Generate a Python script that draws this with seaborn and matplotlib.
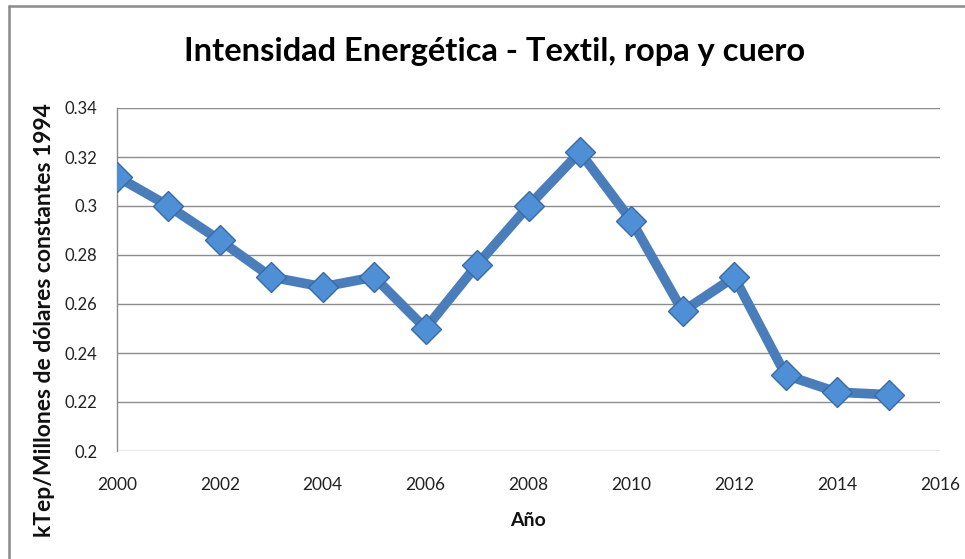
import matplotlib
matplotlib.use("Agg")
import matplotlib.pyplot as plt
import seaborn as sns
import pandas as pd
from matplotlib.lines import Line2D

years = [2000, 2001, 2002, 2003, 2004, 2005, 2006, 2007,
         2008, 2009, 2010, 2011, 2012, 2013, 2014, 2015]
intensity = [0.312, 0.300, 0.286, 0.271, 0.267, 0.271, 0.250, 0.276,
             0.300, 0.322, 0.294, 0.257, 0.271, 0.231, 0.224, 0.223]
x_ticks = [2000, 2002, 2004, 2006, 2008, 2010, 2012, 2014, 2016]
y_ticks = [0.2, 0.22, 0.24, 0.26, 0.28, 0.3, 0.32, 0.34]
y_tick_labels = ["0.2", "0.22", "0.24", "0.26", "0.28", "0.3", "0.32", "0.34"]

title = "Intensidad Energética - Textil, ropa y cuero"
xlabel = "Año"
ylabel = "kTep/Millones de dólares constantes 1994"

df = pd.DataFrame({"Año": years, "Intensidad": intensity})

sns.set_theme(style="white")
plt.rcParams["font.family"] = ["Lato", "DejaVu Sans"]

fig = plt.figure(figsize=(9.65, 5.59), dpi=100)
ax = fig.add_axes([117 / 965, 1 - 451 / 559, (940 - 117) / 965, (451 - 108) / 559])

sns.lineplot(data=df, x="Año", y="Intensidad", ax=ax, color="#4a7ebb",
             linewidth=7, marker="D", markersize=15,
             markerfacecolor="#4f8fd6", markeredgecolor="#3a6aa5",
             markeredgewidth=1.0, zorder=3)

ax.set_xlim(2000, 2016)
ax.set_ylim(0.2, 0.34)
ax.set_xticks(x_ticks)
ax.set_xticklabels([str(t) for t in x_ticks])
ax.set_yticks(y_ticks)
ax.set_yticklabels(y_tick_labels)
ax.yaxis.grid(True, color="#8c8c8c", linewidth=1.0)
ax.xaxis.grid(False)
ax.set_axisbelow(True)
for side in ["top", "right", "bottom"]:
    ax.spines[side].set_visible(False)
ax.spines["left"].set_color("#8c8c8c")
ax.spines["left"].set_linewidth(1.0)
ax.tick_params(axis="x", length=0, pad=19, labelsize=12.5, labelcolor="#222222")
ax.tick_params(axis="y", length=0, pad=14, labelsize=12, labelcolor="#222222")
ax.set_xlabel("")
ax.set_ylabel("")

fig.text(528 / 965, 1 - 520 / 559, xlabel, ha="center", va="center",
         fontsize=14, fontweight="bold", color="#111111")
fig.text(45 / 965, 1 - 320 / 559, ylabel, ha="center", va="center",
         rotation=90, fontsize=16.5, fontweight="bold", color="#111111")
fig.text(495 / 965, 1 - 52 / 559, title, ha="center", va="center",
         fontsize=23.5, fontweight="bold", color="#000000")

# outer chart border
fig.add_artist(Line2D([9 / 965, 1.0], [1 - 6 / 559, 1 - 6 / 559],
                      transform=fig.transFigure, color="#8a8a8a", linewidth=1.8))
fig.add_artist(Line2D([9 / 965, 9 / 965], [0.0, 1 - 6 / 559],
                      transform=fig.transFigure, color="#8a8a8a", linewidth=1.8))

fig.savefig("out.png", dpi=100)
